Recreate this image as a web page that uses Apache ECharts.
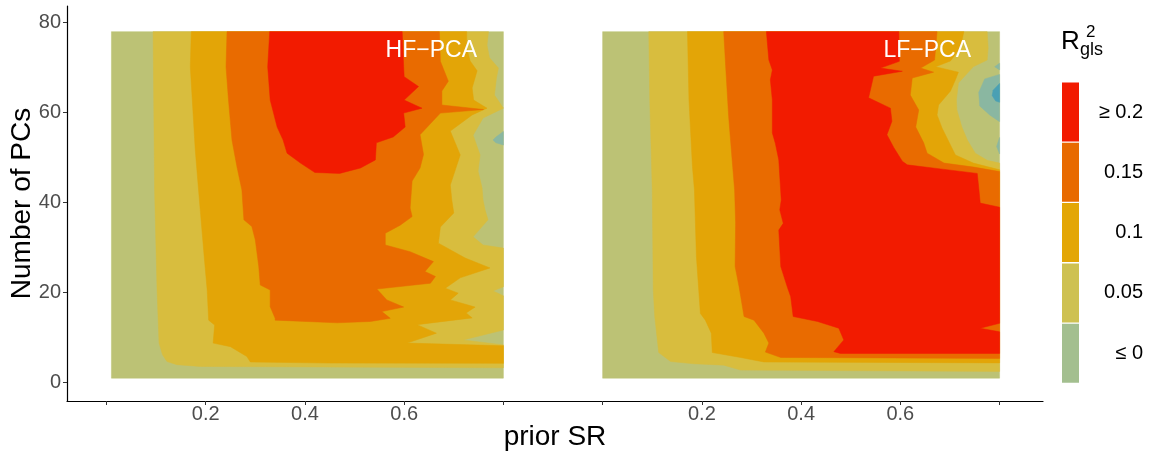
<!DOCTYPE html>
<html>
<head>
<meta charset="utf-8">
<script src="https://cdn.jsdelivr.net/npm/echarts@6/dist/echarts.min.js"></script>
<style>
html, body { margin: 0; padding: 0; background: #fff; }
#main { width: 1159px; height: 457px; }
</style>
</head>
<body>
<div id="main"></div>
<script>
'use strict';
// contour bands, points are [prior SR, number of PCs]
// HF-PCA panel
var hfBase = [[0.01,1],[0.8,1],[0.8,78],[0.01,78]];
var hfLevel1 = [[0.094,78],[0.097,42.8],[0.102,20.6],[0.106,8.8],[0.113,6.2],[0.122,4.7],[0.142,4.0],[0.189,3.6],[0.8,3.3],
	[0.8,8.4],[0.719,9.5],[0.8,11.7],[0.8,19.3],[0.779,20.4],[0.8,21.3],[0.8,29.9],[0.759,30.6],[0.739,32.4],[0.769,36.2],
	[0.763,38.4],[0.759,40.6],[0.757,43.3],[0.749,47.0],[0.753,50.6],[0.739,55.0],[0.759,58.8],[0.8,61.0],[0.782,63.9],
	[0.786,67.7],[0.790,69.9],[0.772,72.2],[0.767,75.0],[0.770,78]];
var hfLevel2 = [[0.171,78],[0.169,70.2],[0.173,62.8],[0.179,51.7],[0.184,45.0],[0.189,38.4],[0.197,28.0],[0.203,20.6],
	[0.206,13.9],[0.218,12.8],[0.215,8.8],[0.250,8.0],[0.283,5.8],[0.290,4.6],[0.45,4.35],[0.8,4.3],
	[0.8,8.2],[0.606,8.8],[0.665,11.0],[0.626,12.9],[0.737,14.4],[0.725,15.5],[0.743,16.8],[0.693,18.4],[0.709,19.9],
	[0.683,21.0],[0.713,23.3],[0.773,25.5],[0.723,27.7],[0.669,31.0],[0.673,34.6],[0.700,37.7],[0.696,40.6],[0.693,43.9],
	[0.713,50.6],[0.693,55.9],[0.737,59.5],[0.767,61.0],[0.740,62.8],[0.737,65.5],[0.747,69.3],[0.733,71.5],[0.726,74.4],[0.726,78]];
var hfLevel3 = [[0.243,78],[0.241,70.2],[0.246,62.8],[0.253,53.9],[0.263,48.0],[0.273,42.8],[0.277,36.2],[0.293,34.7],
	[0.300,31.7],[0.307,25.8],[0.310,21.7],[0.330,20.6],[0.330,16.9],[0.340,14.3],[0.340,13.9],[0.465,13.3],[0.532,13.6],
	[0.572,14.3],[0.555,15.8],[0.599,16.8],[0.565,18.4],[0.545,20.8],[0.653,22.1],[0.663,23.6],[0.642,24.7],[0.659,26.9],
	[0.612,29.1],[0.562,30.6],[0.562,33.2],[0.592,35.0],[0.616,36.9],[0.612,38.8],[0.616,44.8],[0.632,47.7],[0.639,50.7],
	[0.632,55.1],[0.673,59.9],[0.760,60.7],[0.676,61.7],[0.676,64.8],[0.689,67.0],[0.673,71.4],[0.671,78]];
var hfLevel4 = [[0.329,78],[0.325,70.2],[0.330,62.8],[0.344,56.8],[0.356,53.9],[0.364,51.0],[0.391,48.8],[0.42,46.7],
	[0.47,46.5],[0.512,47.7],[0.542,49.5],[0.544,53.3],[0.578,54.6],[0.602,56.8],[0.599,59.9],[0.636,61.0],[0.600,62.8],
	[0.629,65.8],[0.600,68.0],[0.599,70.2],[0.596,78]];
var hfLow = [[0.8,55.8],[0.785,54.6],[0.779,53.9],[0.785,53.3],[0.8,52.8]];

// LF-PCA panel
var lfBase = [[0,1],[0.8,1],[0.8,78],[0,78]];
var lfLevel1 = [[0.093,78],[0.095,62.8],[0.100,42.8],[0.102,20.6],[0.105,14.7],[0.113,6.7],[0.137,4.7],[0.184,4.2],
	[0.244,3.9],[0.278,2.8],[0.8,2.5],[0.8,48.8],[0.775,49.4],[0.751,51.0],[0.735,53.9],[0.724,56.8],[0.714,60.6],
	[0.713,62.8],[0.717,66.6],[0.747,70.2],[0.775,71.7],[0.777,74.4],[0.775,78]];
var lfLevel2 = [[0.171,78],[0.174,62.8],[0.181,48.0],[0.185,42.8],[0.189,28.0],[0.197,15.4],[0.207,13.9],[0.219,11.0],
	[0.221,6.7],[0.278,5.6],[0.325,4.6],[0.8,4.4],[0.8,47.3],[0.747,48.8],[0.711,50.6],[0.701,52.8],[0.684,56.6],
	[0.674,59.5],[0.677,61.7],[0.701,64.8],[0.711,67.3],[0.717,69.0],[0.671,70.2],[0.701,71.5],[0.721,74.4],[0.728,78]];
var lfLevel3 = [[0.244,78],[0.248,70.2],[0.254,59.1],[0.261,49.5],[0.266,42.8],[0.268,35.5],[0.267,25.8],[0.275,21.3],
	[0.285,14.7],[0.305,13.9],[0.325,11.0],[0.335,8.8],[0.328,6.8],[0.359,5.6],[0.8,5.4],[0.8,46.9],[0.748,47.9],
	[0.688,48.8],[0.654,51.0],[0.647,53.3],[0.631,56.8],[0.637,60.6],[0.620,63.9],[0.624,67.7],[0.667,69.0],[0.641,69.9],
	[0.669,71.7],[0.674,78]];
var lfLevel4 = [[0.330,78],[0.335,71.7],[0.342,69.5],[0.338,67.3],[0.342,62.8],[0.342,55.5],[0.348,53.2],[0.355,49.5],
	[0.360,40.6],[0.357,38.4],[0.364,35.4],[0.355,33.9],[0.359,25.8],[0.372,21.3],[0.379,19.1],[0.384,14.7],[0.433,13.6],
	[0.476,12.1],[0.486,9.5],[0.466,6.9],[0.479,6.5],[0.8,6.5],[0.8,11.3],[0.761,12.1],[0.8,13.2],[0.8,39.0],[0.761,39.9],
	[0.758,43.3],[0.755,46.5],[0.681,47.5],[0.614,48.4],[0.604,49.2],[0.587,52.2],[0.573,55.1],[0.583,58.1],[0.580,61.0],
	[0.536,63.3],[0.546,68.1],[0.604,69.2],[0.560,69.9],[0.598,71.4],[0.597,78]];
var lfLow1 = [[0.8,68.5],[0.770,67.5],[0.758,64.5],[0.760,61.5],[0.780,59.5],[0.8,58.0]];
var lfLow2 = [[0.8,66.5],[0.787,65.0],[0.785,63.8],[0.792,62.6],[0.8,62.3]];
var lfLow3 = [[0.8,71.0],[0.790,70.2],[0.8,69.5]];
var lfLow4 = [[0.8,54.5],[0.794,52.5],[0.8,50.8]];

var lfOffset = 1.0; // second facet sits one unit to the right on the shared axis
var xTicks = [0, 0.2, 0.4, 0.6, 0.8, 1.0, 1.2, 1.4, 1.6, 1.8];
var xLabelTicks = [0.2, 0.4, 0.6, 1.2, 1.4, 1.6];
var yTicks = [0, 20, 40, 60, 80];
var legendLabels = ['\u2265 0.2', '0.15', '0.1', '0.05', '\u2264 0'];
var legendColors = ['#f21a00', '#e86a00', '#e3a605', '#cec151', '#a3bf8f'];

var fills = {
	low2: '#4aa0b4', low1: '#8ab7a1', base: '#bcc275',
	l1: '#d8bd3e', l2: '#e3a507', l3: '#e96b00', l4: '#f21b00'
};

var regions = [
	{ pts: hfBase, off: 0, c: fills.base },
	{ pts: hfLevel1, off: 0, c: fills.l1 },
	{ pts: hfLevel2, off: 0, c: fills.l2 },
	{ pts: hfLevel3, off: 0, c: fills.l3 },
	{ pts: hfLevel4, off: 0, c: fills.l4 },
	{ pts: hfLow, off: 0, c: fills.low1 },
	{ pts: lfBase, off: lfOffset, c: fills.base },
	{ pts: lfLevel1, off: lfOffset, c: fills.l1 },
	{ pts: lfLevel2, off: lfOffset, c: fills.l2 },
	{ pts: lfLevel3, off: lfOffset, c: fills.l3 },
	{ pts: lfLevel4, off: lfOffset, c: fills.l4 },
	{ pts: lfLow1, off: lfOffset, c: fills.low1 },
	{ pts: lfLow2, off: lfOffset, c: fills.low2 },
	{ pts: lfLow3, off: lfOffset, c: fills.low1 },
	{ pts: lfLow4, off: lfOffset, c: fills.low1 }
];

var font = 'Liberation Sans, Arial, Helvetica, sans-serif';
var myChart = echarts.init(document.getElementById('main'));

var graphics = [
	{ type: 'text', z: 100, x: 1061, y: 29, style: { text: 'R', font: '26px ' + font, fill: '#000' } },
	{ type: 'text', z: 100, x: 1086, y: 24, style: { text: '2', font: '17px ' + font, fill: '#000' } },
	{ type: 'text', z: 100, x: 1080, y: 41, style: { text: 'gls', font: '18px ' + font, fill: '#000' } },
	{ type: 'text', z: 100, x: 477, y: 51, style: { text: 'HF\u2212PCA', font: '23px ' + font, fill: '#fff', align: 'right', verticalAlign: 'middle' } },
	{ type: 'text', z: 100, x: 971, y: 51, style: { text: 'LF\u2212PCA', font: '23px ' + font, fill: '#fff', align: 'right', verticalAlign: 'middle' } }
];
for (var i = 0; i < legendLabels.length; i++) {
	graphics.push({ type: 'rect', z: 100, shape: { x: 1062, y: 82.5 + i * 60.3, width: 17, height: 59 }, style: { fill: legendColors[i] } });
	graphics.push({ type: 'text', z: 100, x: 1143, y: 112 + i * 60.3, style: { text: legendLabels[i], font: '20px ' + font, fill: '#000', align: 'right', verticalAlign: 'middle' } });
}

var option = {
	animation: false,
	grid: { left: 67, right: 116, top: 6, bottom: 56, outerBoundsMode: 'none', containLabel: false },
	xAxis: {
		type: 'value',
		min: -0.0795,
		max: 1.8875,
		name: 'prior SR',
		nameLocation: 'middle',
		nameGap: 22,
		nameMoveOverlap: false,
		nameTextStyle: { color: '#000', fontSize: 28, fontFamily: font },
		axisLine: { onZero: false, lineStyle: { color: '#000', width: 1.2 } },
		axisTick: { customValues: xTicks, length: 4, lineStyle: { color: '#333' } },
		axisLabel: {
			customValues: xLabelTicks,
			color: '#4d4d4d', fontSize: 20, fontFamily: font, margin: 3,
			formatter: function (v) { return (v > 1 ? v - lfOffset : v).toFixed(1); }
		},
		splitLine: { show: false }
	},
	yAxis: {
		type: 'value',
		min: -4.07,
		max: 83.7,
		name: 'Number of PCs',
		nameLocation: 'middle',
		nameGap: 31,
		nameMoveOverlap: false,
		nameTextStyle: { color: '#000', fontSize: 28, fontFamily: font },
		axisLine: { show: true, onZero: false, lineStyle: { color: '#000', width: 1.2 } },
		axisTick: { show: true, customValues: yTicks, length: 4, lineStyle: { color: '#333' } },
		axisLabel: { customValues: yTicks, color: '#4d4d4d', fontSize: 20, fontFamily: font, margin: 6 },
		splitLine: { show: false }
	},
	graphic: graphics,
	series: [{
		type: 'custom',
		silent: true,
		data: regions.map(function (r, k) { return [r.pts[0][0] + r.off, r.pts[0][1], k]; }),
		renderItem: function (params, api) {
			var r = regions[api.value(2)];
			var pts = r.pts.map(function (p) { return api.coord([p[0] + r.off, p[1]]); });
			return {
				type: 'polygon',
				shape: { points: pts },
				style: { fill: r.c, stroke: r.c, lineWidth: 0.5 }
			};
		}
	}]
};
myChart.setOption(option);
</script>
</body>
</html>
